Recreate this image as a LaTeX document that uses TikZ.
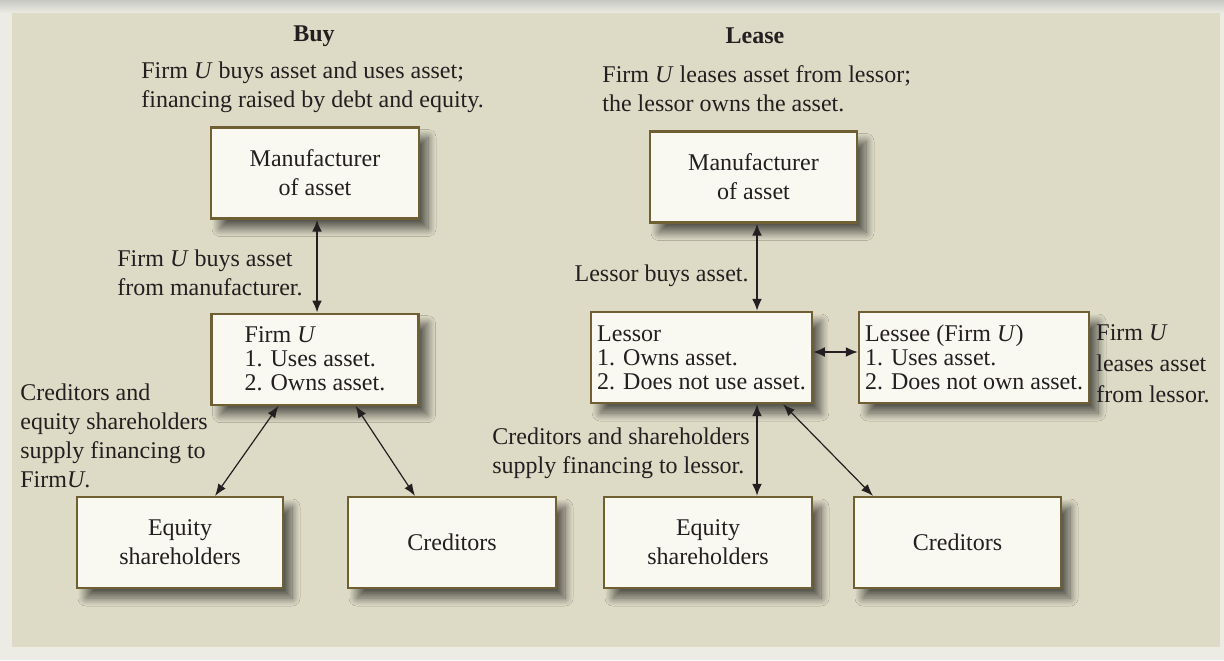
\documentclass[tikz,border=0pt]{standalone}
\usepackage{fontspec}
\setmainfont{Liberation Serif}
\usetikzlibrary{positioning,arrows.meta,shadows.blur}
\definecolor{panel}{RGB}{221,219,198}
\definecolor{outer}{RGB}{236,236,228}
\definecolor{topgray}{RGB}{200,200,195}
\definecolor{boxline}{RGB}{112,95,50}
\definecolor{boxfill}{RGB}{249,248,241}
\definecolor{ink}{RGB}{35,31,32}

\begin{document}
\begin{tikzpicture}[x=0.5pt,y=-0.5pt,
        every node/.style={text=ink,font=\fontsize{12}{14.5}\selectfont},
        box/.style={draw=boxline,line width=1.1pt,fill=boxfill,align=center,
                    minimum height=45.5pt,inner xsep=3pt,
                    blur shadow={shadow xshift=4.5pt,shadow yshift=-5pt,
                                 shadow blur radius=4pt,shadow blur steps=16,
                                 shadow opacity=60}},
        listbox/.style={box,align=left,font=\fontsize{12}{12}\selectfont},
        lbl/.style={align=left,inner sep=0pt},
        head/.style={font=\bfseries\fontsize{12}{14.5}\selectfont},
        darr/.style={{Latex[length=6pt,width=5pt]}-{Latex[length=6pt,width=5pt]},line width=1.1pt,draw=ink},
        sarr/.style={{Latex[length=6pt,width=4.5pt]}-{Latex[length=6pt,width=4.5pt]},line width=0.6pt,draw=ink}]
        \fill[outer] (0,0) rectangle (1224,660);
        \shade[top color=topgray,bottom color=outer] (0,0) rectangle (1224,13);
        \fill[panel] (12,13) rectangle (1220,647);
        \useasboundingbox (0,0) rectangle (1224,660);

        \node[head] (buy) at (314,36) {Buy};
        \node[lbl,anchor=west] (buytxt) at (141,87) {Firm \textit{U} buys asset and uses asset;\\financing raised by debt and equity.};
        \node[box,minimum width=104pt] (mfgB) at (315,173) {Manufacturer\\of asset};
        \node[listbox,minimum width=103.5pt,below=46.5pt of mfgB] (firmB) {Firm \textit{U}\\1. Uses asset.\\2. Owns asset.};
        \node[box,minimum width=103pt] (equB) at (180,542.5) {Equity\\shareholders};
        \node[box,minimum width=104pt] (credB) at (452,542.5) {Creditors};
        \node[lbl,anchor=east] (buyarr) at (303,273) {Firm \textit{U} buys asset\\from manufacturer.};
        \node[lbl,anchor=west] (finB) at (20,436) {Creditors and\\equity shareholders\\supply financing to\\Firm\textit{U}.};

        \node[head] (lease) at (755,36) {Lease};
        \node[lbl,anchor=west] (leasetxt) at (602,89) {Firm \textit{U} leases asset from lessor;\\the lessor owns the asset.};
        \node[box,minimum width=103.5pt] (mfgL) at (753.5,177) {Manufacturer\\of asset};
        \node[listbox] (lessor) at (701.5,357.5) {Lessor\\1. Owns asset.\\2. Does not use asset.};
        \node[listbox,right=22.5pt of lessor] (lessee) {Lessee (Firm \textit{U})\\1. Uses asset.\\2. Does not own asset.};
        \node[box,minimum width=104pt] (equL) at (708,542.5) {Equity\\shareholders};
        \node[box,minimum width=103.5pt] (credL) at (957.5,542.5) {Creditors};
        \node[lbl,anchor=east] (buyL) at (749,276) {Lessor buys asset.};
        \node[lbl,anchor=west] (finL) at (492,453) {Creditors and shareholders\\supply financing to lessor.};
        \node[lbl,anchor=west,font=\fontsize{12}{15.5}\selectfont] (leaseU) at (1096,364) {Firm \textit{U}\\leases asset\\from lessor.};

        \draw[darr] ([xshift=1pt]mfgB.south) -- ([xshift=1pt]firmB.north);
        \draw[sarr] ([xshift=-18.25pt]firmB.south) -- ([xshift=17.5pt]equB.north);
        \draw[sarr] ([xshift=20.25pt]firmB.south) -- ([xshift=-18.5pt]credB.north);
        \draw[darr] ([xshift=1.75pt]mfgL.south) -- ([xshift=27.75pt]lessor.north);
        \draw[darr] ([yshift=2.75pt]lessor.east) -- ([yshift=2.75pt]lessee.west);
        \draw[darr] ([xshift=27.75pt]lessor.south) -- ([xshift=24.5pt]equL.north);
        \draw[sarr] ([xshift=40.75pt]lessor.south) -- ([xshift=-42.25pt]credL.north);
    \end{tikzpicture}
\end{document}
